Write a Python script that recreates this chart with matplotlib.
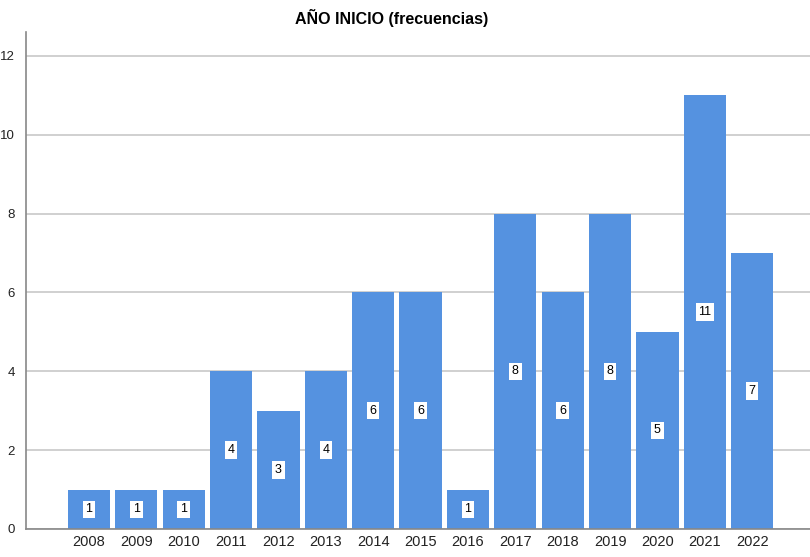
import matplotlib.pyplot as plt
import numpy as np

plt.rcParams['font.family'] = ['Liberation Sans', 'DejaVu Sans']

# Frequencies of starting year
years = ['2008', '2009', '2010', '2011', '2012', '2013', '2014', '2015',
         '2016', '2017', '2018', '2019', '2020', '2021', '2022']
counts = [1, 1, 1, 4, 3, 4, 6, 6, 1, 8, 6, 8, 5, 11, 7]
y_ticks = [0, 2, 4, 6, 8, 10, 12]

bar_color = '#5592E0'
x = np.arange(len(years))

fig = plt.figure(figsize=(8.1, 5.57), dpi=100)
ax = fig.add_axes([0.032, 0.0503, 0.968, 0.892])

ax.bar(x, counts, width=0.89, color=bar_color, zorder=2)

# value labels in white boxes at mid-height
for xi, c in zip(x, counts):
    ax.text(xi, c / 2, str(c), ha='center', va='center', fontsize=9,
            color='black', zorder=3,
            bbox=dict(boxstyle='square,pad=0.22', facecolor='white',
                      edgecolor='none'))

ax.set_xlim(-1.33, len(years) - 1 + 1.22)
ax.set_ylim(0, 12.6)
ax.set_xticks(x)
ax.set_xticklabels(years, fontsize=10.5, color='#222222')
ax.set_yticks(y_ticks)
ax.set_yticklabels([str(t) for t in y_ticks], fontsize=9.5, color='#222222')
ax.tick_params(axis='both', length=0, pad=4)
ax.tick_params(axis='y', pad=8)

ax.grid(axis='y', color='#c8c8c8', linewidth=1.2, zorder=0)
ax.set_axisbelow(True)
for side in ['top', 'right']:
    ax.spines[side].set_visible(False)
ax.spines['left'].set_color('#888888')
ax.spines['bottom'].set_color('#888888')
ax.spines['left'].set_linewidth(1.2)
ax.spines['bottom'].set_linewidth(1.2)

fig.text(392 / 810, 1 - 18 / 557, 'AÑO INICIO (frecuencias)', ha='center',
         va='center', fontsize=11.5, fontweight='bold')

fig.savefig('out.png', dpi=100, facecolor='white')
